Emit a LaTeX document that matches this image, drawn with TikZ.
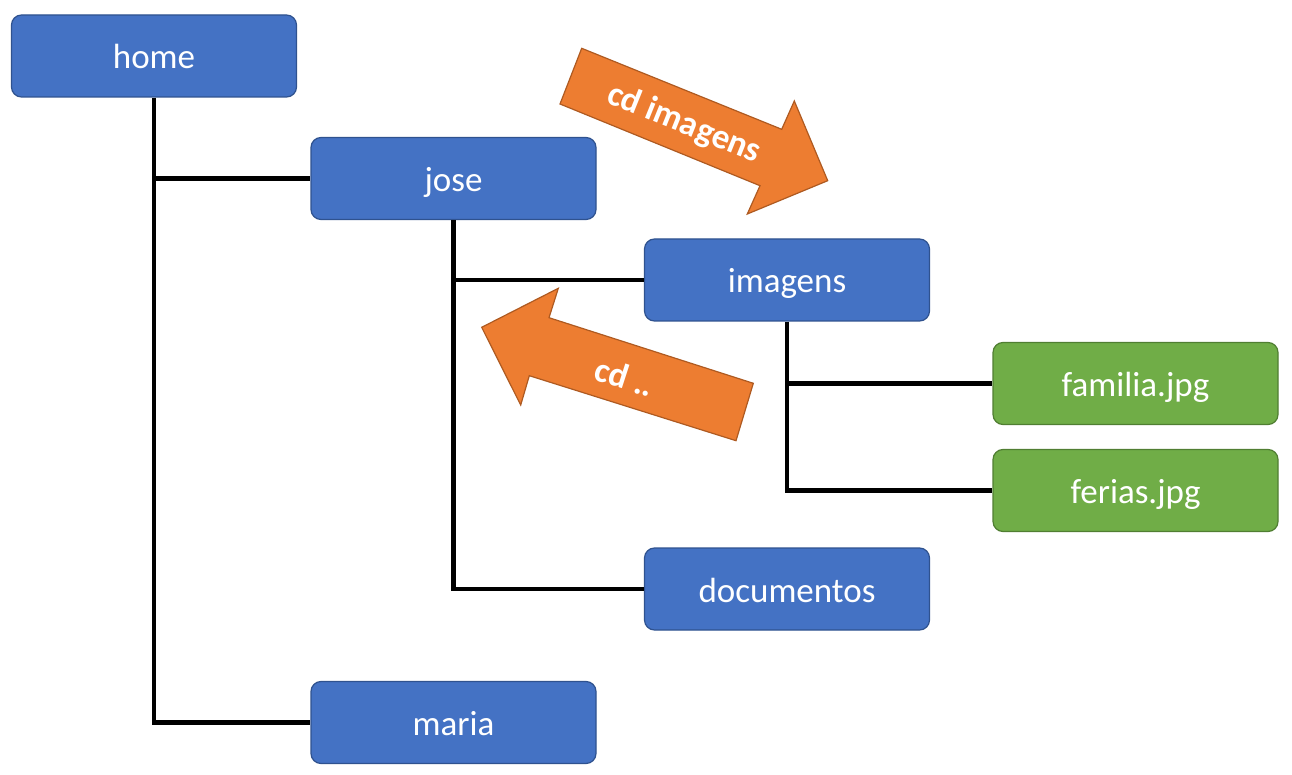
\documentclass[tikz,border=0pt]{standalone}
\usepackage{fontspec}
\setmainfont{Carlito}
\definecolor{boxblue}{HTML}{4472C4}
\definecolor{boxblueline}{HTML}{2F528F}
\definecolor{boxgreen}{HTML}{70AD47}
\definecolor{boxgreenline}{HTML}{507E32}
\definecolor{arroworange}{HTML}{ED7D31}
\definecolor{arrowline}{HTML}{AE5A21}
\begin{document}
\begin{tikzpicture}[x=1pt,y=-1pt,
  folder/.style={draw=boxblueline, fill=boxblue, line width=1.2pt, rounded corners=10pt,
    minimum width=285pt, minimum height=82pt, text=white, font=\fontsize{35}{40}\selectfont, inner sep=0pt,
    text depth=0pt, text height=26pt},
  filebox/.style={folder, draw=boxgreenline, fill=boxgreen},
  link/.style={line width=4.5pt, black},
  bigarrow/.style={draw=arrowline, fill=arroworange, line width=1.2pt, line join=miter},
  arrowtext/.style={text=white, font=\bfseries\fontsize{35}{40}\selectfont, inner sep=0pt}]
\useasboundingbox (0,0) rectangle (1292,775);
\node[folder] (home) at (154,56) {home};
\node[folder] (jose) at (453.5,178.5) {jose};
\node[folder] (imagens) at (787,280) {imagens};
\node[filebox] (familia) at (1135.5,383.5) {familia.jpg};
\node[filebox] (ferias) at (1135.5,490.5) {ferias.jpg};
\node[folder] (documentos) at (787,589) {documentos};
\node[folder] (maria) at (453.5,722.5) {maria};
% connectors
\draw[link] (home.south) |- (maria.west);
\draw[link] (home.south |- jose.west) -- (jose.west);
\draw[link] (jose.south) |- (documentos.west);
\draw[link] (jose.south |- imagens.west) -- (imagens.west);
\draw[link] (imagens.south) |- (ferias.west);
\draw[link] (imagens.south |- familia.west) -- (familia.west);
% arrows
\draw[bigarrow] (581.7,48.3) -- (781.7,129.3) -- (794.3,101) -- (827.7,180.7) -- (747.3,214) -- (760,185.7) -- (560,104) -- cycle;
\node[arrowtext, rotate=-22] (cdimg) at (684,124) {cd imagens};
\draw[bigarrow] (481.7,327.3) -- (558.3,288.3) -- (549,317.7) -- (753.3,383.3) -- (736,440.7) -- (529.3,375.7) -- (520.7,405) -- cycle;
\node[arrowtext, rotate=-18] (cdup) at (625,377) {cd ..};
\end{tikzpicture}
\end{document}
